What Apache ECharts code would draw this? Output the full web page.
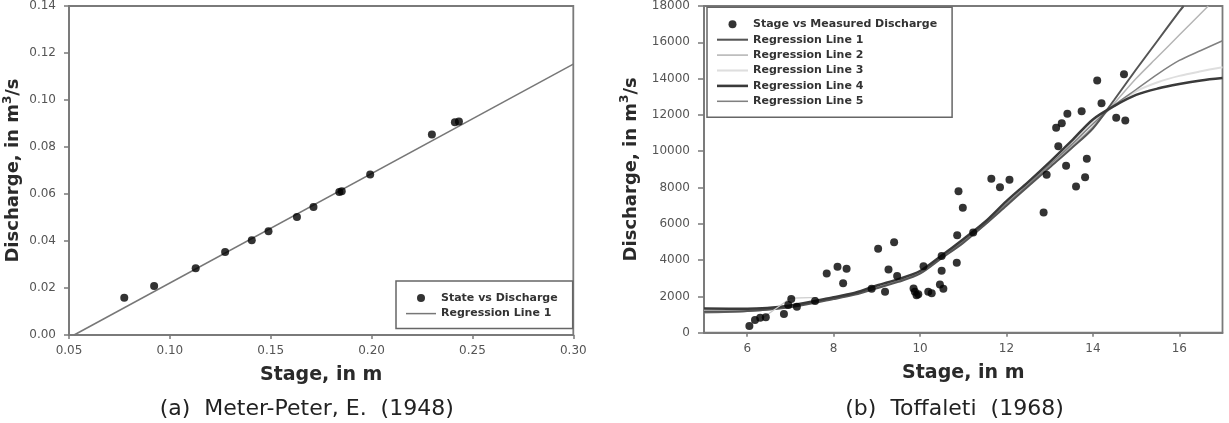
<!DOCTYPE html>
<html>
<head>
<meta charset="utf-8">
<script src="https://cdn.jsdelivr.net/npm/echarts@6/dist/echarts.min.js"></script>
<style>
html,body{margin:0;padding:0;background:#fff;}
#chart{width:1229px;height:423px;}
</style>
</head>
<body>
<div id="chart"></div>
<script>
// ---- (a) Meter-Peter, E. (1948) ----
const leftStage = [0.0774, 0.0922, 0.1128, 0.1274, 0.1406, 0.1489, 0.1630, 0.1712, 0.1840, 0.1852, 0.1993, 0.2299, 0.2413, 0.2433];
const leftDischarge = [0.0158, 0.0209, 0.0284, 0.0353, 0.0403, 0.0441, 0.0502, 0.0545, 0.0608, 0.0612, 0.0683, 0.0853, 0.0905, 0.0908];
const leftLineStage = [0.0525, 0.30];
const leftLineDischarge = [0.0, 0.1153];
const leftXTicks = [0.05, 0.10, 0.15, 0.20, 0.25, 0.30];

// ---- (b) Toffaleti (1968) ----
const rightStage = [6.05, 6.18, 6.30, 6.43, 6.85, 6.95, 7.02, 7.15, 7.57, 7.84, 8.09, 8.22, 8.30, 8.88, 9.03, 9.19, 9.27, 9.40, 9.47,
  9.85, 9.88, 9.92, 9.96, 10.08, 10.19, 10.27, 10.46, 10.50, 10.50, 10.54, 10.85, 10.86, 10.89, 10.99, 11.23,
  11.65, 11.85, 12.07, 12.86, 12.93, 13.15, 13.20, 13.28, 13.38, 13.41, 13.61, 13.74, 13.82, 13.86, 14.10, 14.20, 14.54, 14.72, 14.75];
const rightDischarge = [370, 700, 820, 850, 1030, 1520, 1850, 1430, 1740, 3260, 3630, 2730, 3520, 2420, 4620, 2250, 3480, 4980, 3120,
  2440, 2250, 2070, 2120, 3660, 2250, 2170, 2660, 3420, 4220, 2420, 3850, 5370, 7800, 6890, 5520,
  8480, 8020, 8430, 6620, 8700, 11290, 10270, 11540, 9200, 12070, 8060, 12200, 8570, 9580, 13890, 12640, 11840, 14240, 11690];

const reg1Stage = [5, 6, 7, 8, 8.5, 9, 9.5, 10, 10.5, 11, 11.5, 12, 12.5, 13, 13.5, 14, 14.5, 15, 15.5, 16, 16.1];
const reg1Q = [1150, 1200, 1400, 1850, 2100, 2450, 2800, 3250, 4100, 4950, 5950, 7000, 8050, 9100, 10150, 11250, 12850, 14500, 16100, 17700, 18000];
const reg2Stage = [5, 6, 7, 8, 8.5, 9, 9.5, 10, 10.5, 11, 11.5, 12, 12.5, 13, 13.5, 14, 14.5, 15, 15.5, 16, 16.67];
const reg2Q = [1200, 1250, 1450, 1900, 2150, 2500, 2850, 3300, 4150, 5000, 5950, 7050, 8100, 9200, 10250, 11350, 12650, 14000, 15200, 16400, 18000];
const reg3Stage = [5, 6, 7, 8, 8.5, 9, 9.5, 10, 10.5, 11, 11.5, 12, 12.5, 13, 13.5, 14, 14.5, 15, 15.5, 16, 16.5, 17];
const reg3Q = [1250, 1300, 1480, 1950, 2200, 2550, 2900, 3350, 4200, 5100, 6050, 7150, 8200, 9300, 10450, 11600, 12500, 13300, 13800, 14150, 14400, 14620];
const reg4Stage = [5, 6, 7, 8, 8.5, 9, 9.5, 10, 10.5, 11, 11.5, 12, 12.5, 13, 13.5, 14, 14.5, 15, 15.5, 16, 16.5, 17];
const reg4Q = [1340, 1320, 1500, 1950, 2200, 2600, 2950, 3400, 4250, 5150, 6100, 7250, 8300, 9400, 10550, 11750, 12500, 13100, 13450, 13700, 13900, 14034];
const reg5Stage = [5, 6, 7, 8, 8.5, 9, 9.5, 10, 10.5, 11, 11.5, 12, 12.5, 13, 13.5, 14, 14.5, 15, 15.5, 16, 16.5, 17];
const reg5Q = [1100, 1180, 1420, 1880, 2130, 2480, 2830, 3280, 4150, 5050, 6000, 7100, 8150, 9250, 10350, 11500, 12550, 13400, 14250, 15000, 15550, 16085];
const extraStage = [6.35, 7.0, 7.62];
const extraQ = [800, 1900, 1940];
const rightXTicks = [6, 8, 10, 12, 14, 16];

const zip = (a, b) => a.map((v, i) => [v, b[i]]);

const axisColor = '#7a7a7a';
const labelStyle = { color: '#555', fontFamily: 'DejaVu Sans', fontSize: 12 };
const nameStyle = {
  color: '#2a2a2a', fontFamily: 'DejaVu Sans', fontWeight: 'bold', fontSize: 19
};
const yNameStyle = {
  color: '#2a2a2a', fontFamily: 'DejaVu Sans', fontWeight: 'bold', fontSize: 18, lineHeight: 24,
  rich: { sup: { fontFamily: 'DejaVu Sans', fontWeight: 'bold', fontSize: 12, color: '#2a2a2a', verticalAlign: 'top', lineHeight: 24 } }
};
const legendText = { color: '#333', fontFamily: 'DejaVu Sans', fontWeight: 'bold', fontSize: 11, lineHeight: 12 };
const lineIcon = h => 'path://M0,0 L30,0 L30,' + h + ' L0,' + h + ' Z';

const chart = echarts.init(document.getElementById('chart'), null, { renderer: 'canvas' });
chart.setOption({
  animation: false,
  backgroundColor: '#fff',
  grid: [
    { left: 69, top: 5.3, width: 504.3, height: 329.7, show: true, borderColor: axisColor, borderWidth: 1.8, backgroundColor: 'transparent' },
    { left: 704, top: 5, width: 518.5, height: 327.7, show: true, borderColor: axisColor, borderWidth: 1.8, backgroundColor: 'transparent' }
  ],
  xAxis: [
    {
      type: 'value', gridIndex: 0, min: 0.05, max: 0.30, interval: 0.05,
      name: 'Stage, in m', nameLocation: 'middle', nameGap: 31, nameTextStyle: nameStyle,
      axisLine: { show: true, lineStyle: { color: axisColor, width: 1.8 } },
      axisTick: { show: true, length: 4, lineStyle: { color: axisColor, width: 1.5 }, customValues: leftXTicks },
      axisLabel: Object.assign({ margin: 10, formatter: v => v.toFixed(2), customValues: leftXTicks }, labelStyle),
      splitLine: { show: false }
    },
    {
      type: 'value', gridIndex: 1, min: 5, max: 17, interval: 1,
      name: 'Stage, in m', nameLocation: 'middle', nameGap: 31, nameTextStyle: nameStyle,
      axisLine: { show: true, lineStyle: { color: axisColor, width: 1.8 } },
      axisTick: { show: true, length: 4, lineStyle: { color: axisColor, width: 1.5 }, customValues: rightXTicks },
      axisLabel: Object.assign({ margin: 10, formatter: v => String(v), customValues: rightXTicks }, labelStyle),
      splitLine: { show: false }
    }
  ],
  yAxis: [
    {
      type: 'value', gridIndex: 0, min: 0, max: 0.14, interval: 0.02,
      name: 'Discharge, in m{sup|3}/s', nameLocation: 'middle', nameGap: 42, nameRotate: 90, nameTextStyle: yNameStyle,
      axisLine: { show: true, lineStyle: { color: axisColor, width: 1.8 } },
      axisTick: { show: true, length: 5, lineStyle: { color: axisColor, width: 1.5 } },
      axisLabel: Object.assign({ margin: 13, formatter: v => v.toFixed(2) }, labelStyle),
      splitLine: { show: false }
    },
    {
      type: 'value', gridIndex: 1, min: 0, max: 18000, interval: 2000,
      name: 'Discharge, in m{sup|3}/s', nameLocation: 'middle', nameGap: 61, nameRotate: 90, nameTextStyle: yNameStyle,
      axisLine: { show: true, lineStyle: { color: axisColor, width: 1.8 } },
      axisTick: { show: true, length: 6, lineStyle: { color: axisColor, width: 1.5 } },
      axisLabel: Object.assign({ margin: 14, formatter: v => String(v) }, labelStyle),
      splitLine: { show: false }
    }
  ],
  legend: [
    {
      orient: 'vertical', left: 396, top: 281, padding: [11, 15, 9, 10],
      borderColor: '#666', borderWidth: 1.5, backgroundColor: '#fff',
      itemWidth: 30, itemHeight: 8, itemGap: 3.6, selectedMode: false,
      textStyle: legendText,
      data: [
        { name: 'State vs Discharge', icon: 'circle', itemStyle: { color: '#000' } },
        { name: 'Regression Line 1', icon: lineIcon(1.5), itemStyle: { color: '#777' } }
      ]
    },
    {
      orient: 'vertical', left: 707, top: 7.3, padding: [11, 15, 10, 10],
      borderColor: '#666', borderWidth: 1.5, backgroundColor: '#fff',
      itemWidth: 31, itemHeight: 8, itemGap: 3.4, selectedMode: false,
      textStyle: legendText,
      data: [
        { name: 'Stage vs Measured Discharge', icon: 'circle', itemStyle: { color: '#000' } },
        { name: 'Regression Line 1', icon: lineIcon(2), itemStyle: { color: '#555' } },
        { name: 'Regression Line 2', icon: lineIcon(1.5), itemStyle: { color: '#b5b5b5' } },
        { name: 'Regression Line 3', icon: lineIcon(2), itemStyle: { color: '#dedede' } },
        { name: 'Regression Line 4', icon: lineIcon(2.5), itemStyle: { color: '#3a3a3a' } },
        { name: 'Regression Line 5', icon: lineIcon(1.5), itemStyle: { color: '#808080' } }
      ]
    }
  ],
  graphic: [
    { type: 'text', position: [306.7, 409], style: { text: '(a)  Meter-Peter, E.  (1948)', fill: '#222', font: '22px "DejaVu Sans"', textAlign: 'center', textVerticalAlign: 'middle' } },
    { type: 'text', position: [954.5, 409], style: { text: '(b)  Toffaleti  (1968)', fill: '#222', font: '22px "DejaVu Sans"', textAlign: 'center', textVerticalAlign: 'middle' } }
  ],
  series: [
    {
      name: 'Regression Line 1', type: 'line', xAxisIndex: 0, yAxisIndex: 0, symbol: 'none',
      lineStyle: { color: '#777', width: 1.5 }, itemStyle: { color: '#777' }, data: zip(leftLineStage, leftLineDischarge), z: 2
    },
    {
      name: 'State vs Discharge', type: 'scatter', xAxisIndex: 0, yAxisIndex: 0, symbol: 'circle', symbolSize: 8,
      itemStyle: { color: '#000' }, data: zip(leftStage, leftDischarge), z: 3
    },
    {
      name: 'Regression Line 3', type: 'line', xAxisIndex: 1, yAxisIndex: 1, symbol: 'none', smooth: 0.3,
      lineStyle: { color: '#dedede', width: 2 }, itemStyle: { color: '#dedede' }, data: zip(reg3Stage, reg3Q), z: 2
    },
    {
      name: 'Regression Line 2', type: 'line', xAxisIndex: 1, yAxisIndex: 1, symbol: 'none', smooth: 0.3,
      lineStyle: { color: '#b5b5b5', width: 1.5 }, itemStyle: { color: '#b5b5b5' }, data: zip(reg2Stage, reg2Q), z: 2
    },
    {
      name: 'Regression Line 5', type: 'line', xAxisIndex: 1, yAxisIndex: 1, symbol: 'none', smooth: 0.3,
      lineStyle: { color: '#808080', width: 1.5 }, itemStyle: { color: '#808080' }, data: zip(reg5Stage, reg5Q), z: 2
    },
    {
      name: 'Regression Line 1', type: 'line', xAxisIndex: 1, yAxisIndex: 1, symbol: 'none', smooth: 0.3,
      lineStyle: { color: '#555', width: 2 }, itemStyle: { color: '#555' }, data: zip(reg1Stage, reg1Q), z: 2
    },
    {
      name: 'Regression Line 4', type: 'line', xAxisIndex: 1, yAxisIndex: 1, symbol: 'none', smooth: 0.3,
      lineStyle: { color: '#3a3a3a', width: 2.5 }, itemStyle: { color: '#3a3a3a' }, data: zip(reg4Stage, reg4Q), z: 2
    },
    {
      name: 'segment', type: 'line', xAxisIndex: 1, yAxisIndex: 1, symbol: 'none',
      lineStyle: { color: '#c8c8c8', width: 1.2 }, data: zip(extraStage, extraQ), z: 2
    },
    {
      name: 'Stage vs Measured Discharge', type: 'scatter', xAxisIndex: 1, yAxisIndex: 1, symbol: 'circle', symbolSize: 8,
      itemStyle: { color: '#000' }, data: zip(rightStage, rightDischarge), z: 3
    }
  ]
});
</script>
</body>
</html>
